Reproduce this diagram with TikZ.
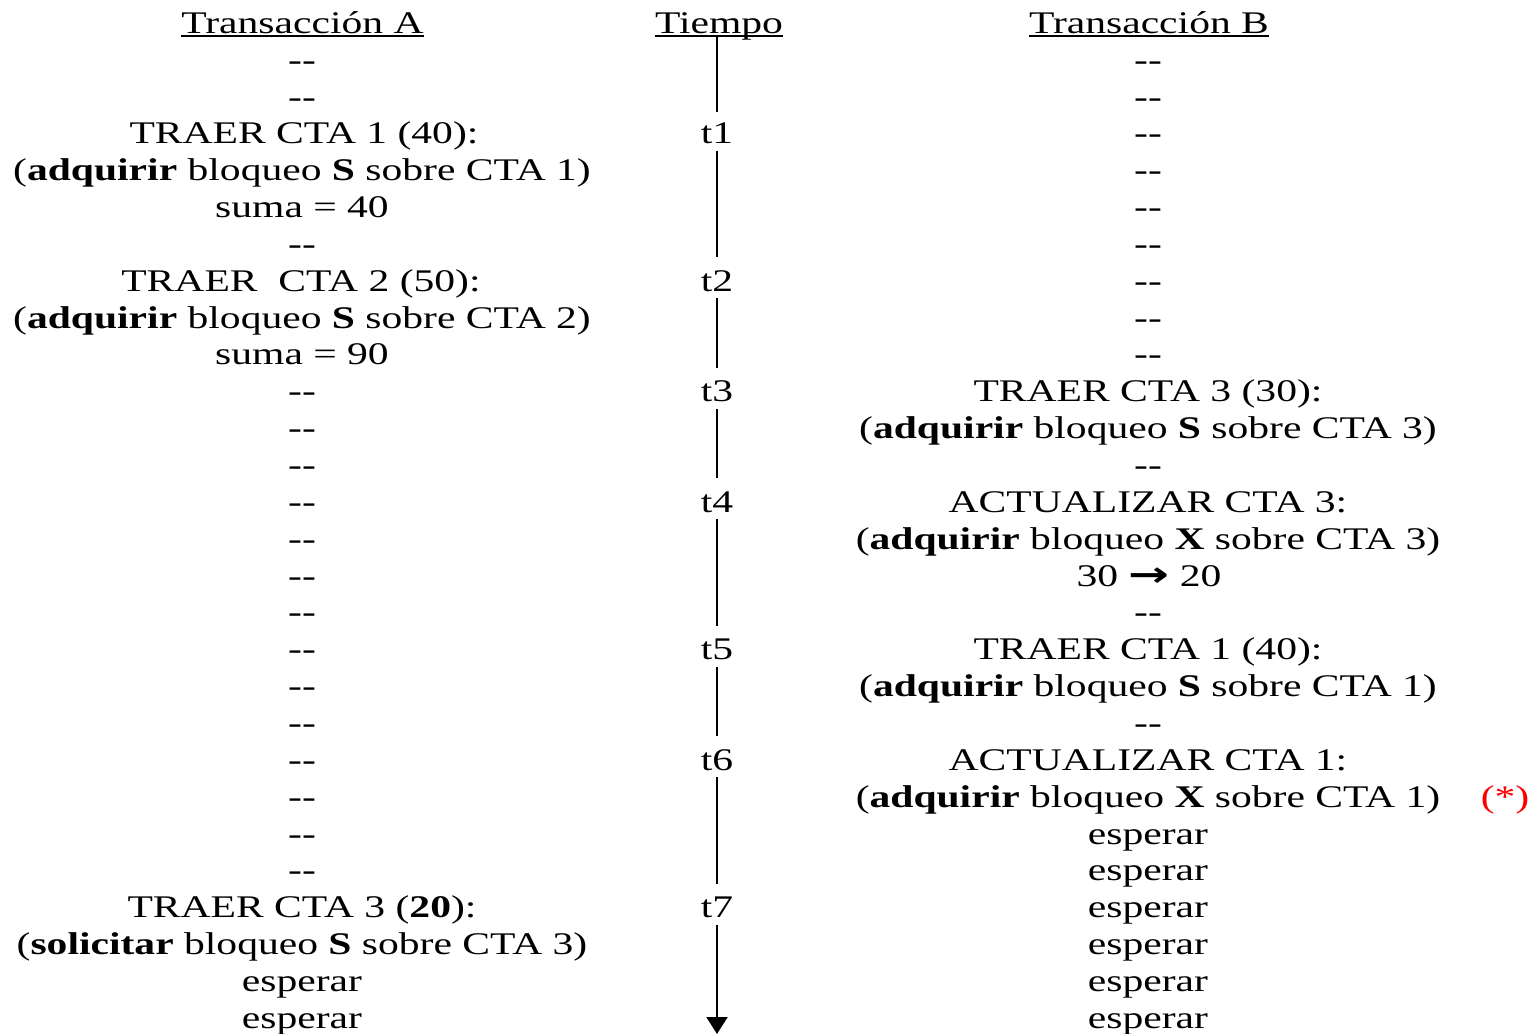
\documentclass[tikz,border=0pt]{standalone}
\usepackage{fontspec}
\usepackage{graphicx}
\setmainfont{Liberation Serif}[FakeStretch=1.32]
\newfontfamily\symfont{DejaVu Sans}
\usetikzlibrary{arrows.meta}
% baseline of table row #1 (row 0 = headings)
\newcommand\rowy[1]{33.3+36.85*#1}
\newcommand\dd{-{}-}
\newcommand\yields{\scalebox{1.55}[1.1]{\symfont\bfseries →}}
\tikzset{
  cell/.style={anchor=base, inner sep=0pt, font=\fontsize{31.5}{36.85}\selectfont},
  hline/.style={line width=1.8pt},
  timeline/.style={line width=2pt},
}
\begin{document}
\begin{tikzpicture}[x=1pt,y=-1pt]
\useasboundingbox (0,0) rectangle (1535,1034);

% headings
\node[cell] (hA) at (302.5,{\rowy{0}}) {Transacción A};
\node[cell] (hT) at (719,{\rowy{0}}) {Tiempo};
\node[cell] (hB) at (1149,{\rowy{0}}) {Transacción B};
\foreach \h in {hA,hT,hB}
  \draw[hline] ([yshift=-2.7pt]\h.base west) -- ([yshift=-2.7pt]\h.base east);

% transaction A
\node[cell] (a1) at (302,{\rowy{1}}) {\dd};
\node[cell] (a2) at (302,{\rowy{2}}) {\dd};
\node[cell] (a3) at (304,{\rowy{3}}) {TRAER CTA 1 (40):};
\node[cell] (a4) at (302,{\rowy{4}}) {(\textbf{adquirir} bloqueo \textbf{S} sobre CTA 1)};
\node[cell] (a5) at (302,{\rowy{5}}) {suma = 40};
\node[cell] (a6) at (302,{\rowy{6}}) {\dd};
\node[cell] (a7) at (301,{\rowy{7}}) {TRAER\ \ CTA 2 (50):};
\node[cell] (a8) at (302,{\rowy{8}}) {(\textbf{adquirir} bloqueo \textbf{S} sobre CTA 2)};
\node[cell] (a9) at (302,{\rowy{9}}) {suma = 90};
\foreach \i in {10,...,23}
  \node[cell] (a\i) at (302,{\rowy{\i}}) {\dd};
\node[cell] (a24) at (302,{\rowy{24}}) {TRAER CTA 3 (\textbf{20}):};
\node[cell] (a25) at (302,{\rowy{25}}) {(\textbf{solicitar} bloqueo \textbf{S} sobre CTA 3)};
\node[cell] (a26) at (302,{\rowy{26}}) {esperar};
\node[cell] (a27) at (302,{\rowy{27}}) {esperar};

% time axis
\node[cell] (t1) at (717,{\rowy{3}}) {t1};
\node[cell] (t2) at (717,{\rowy{7}}) {t2};
\node[cell] (t3) at (717,{\rowy{10}}) {t3};
\node[cell] (t4) at (717,{\rowy{13}}) {t4};
\node[cell] (t5) at (717,{\rowy{17}}) {t5};
\node[cell] (t6) at (717,{\rowy{20}}) {t6};
\node[cell] (t7) at (717,{\rowy{24}}) {t7};
\coordinate (tstart) at (717,36.5);
\coordinate (tend) at (717,1034);
\draw[timeline] (tstart) -- ([yshift=32pt]t1.base);
\draw[timeline] ([yshift=-7pt]t1.base) -- ([yshift=34pt]t2.base);
\draw[timeline] ([yshift=-7pt]t2.base) -- ([yshift=34pt]t3.base);
\draw[timeline] ([yshift=-7pt]t3.base) -- ([yshift=34pt]t4.base);
\draw[timeline] ([yshift=-7pt]t4.base) -- ([yshift=34pt]t5.base);
\draw[timeline] ([yshift=-7pt]t5.base) -- ([yshift=34pt]t6.base);
\draw[timeline] ([yshift=-7pt]t6.base) -- ([yshift=34pt]t7.base);
\draw[timeline,-{Triangle[length=17pt,width=21pt]}] ([yshift=-7pt]t7.base) -- (tend);

% transaction B
\foreach \i in {1,...,9}
  \node[cell] (b\i) at (1148,{\rowy{\i}}) {\dd};
\node[cell] (b10) at (1148,{\rowy{10}}) {TRAER CTA 3 (30):};
\node[cell] (b11) at (1148,{\rowy{11}}) {(\textbf{adquirir} bloqueo \textbf{S} sobre CTA 3)};
\node[cell] (b12) at (1148,{\rowy{12}}) {\dd};
\node[cell] (b13) at (1148,{\rowy{13}}) {ACTUALIZAR CTA 3:};
\node[cell] (b14) at (1148,{\rowy{14}}) {(\textbf{adquirir} bloqueo \textbf{X} sobre CTA 3)};
\node[cell] (b15) at (1149,{\rowy{15}}) {30 \yields{} 20};
\node[cell] (b16) at (1148,{\rowy{16}}) {\dd};
\node[cell] (b17) at (1148,{\rowy{17}}) {TRAER CTA 1 (40):};
\node[cell] (b18) at (1148,{\rowy{18}}) {(\textbf{adquirir} bloqueo \textbf{S} sobre CTA 1)};
\node[cell] (b19) at (1148,{\rowy{19}}) {\dd};
\node[cell] (b20) at (1148,{\rowy{20}}) {ACTUALIZAR CTA 1:};
\node[cell] (b21) at (1148,{\rowy{21}}) {(\textbf{adquirir} bloqueo \textbf{X} sobre CTA 1)};
\node[cell,text=red] (mark) at (1505,{\rowy{21}}) {(*)};
\foreach \i in {22,...,27}
  \node[cell] (b\i) at (1148,{\rowy{\i}}) {esperar};
\end{tikzpicture}
\end{document}
